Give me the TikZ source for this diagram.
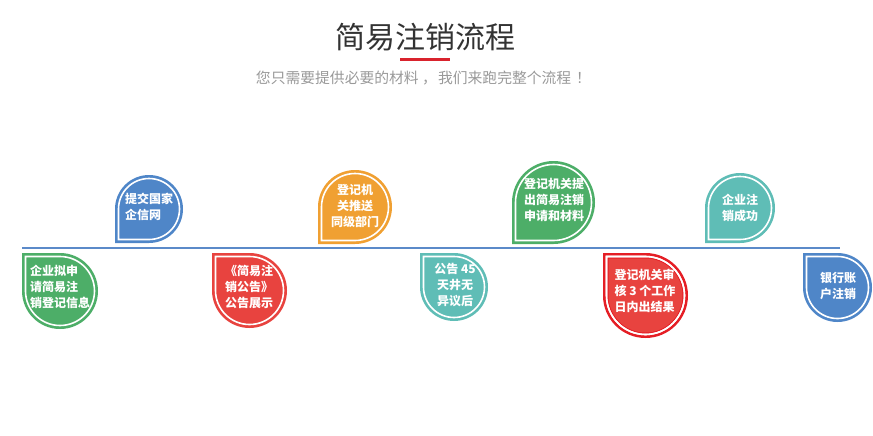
\documentclass[tikz,border=0pt]{standalone}
\usepackage{fontspec}
\setmainfont{Noto Sans CJK SC}
\definecolor{dgreen}{HTML}{4DAE68}
\definecolor{dblue}{HTML}{4F86C8}
\definecolor{dred}{HTML}{E8433F}
\definecolor{dredring}{HTML}{E51E25}
\definecolor{dorange}{HTML}{F0A032}
\definecolor{dteal}{HTML}{5FBDB6}
\definecolor{lineblue}{HTML}{5B8AC9}
\definecolor{titlered}{HTML}{D9232D}
% drop with the square corner at top left: corner x, corner y, radius, colour
\newcommand{\downdrop}[4]{%
  \fill[#4] (#1,-#2) -- ++(#3,0) arc (90:-180:#3) -- cycle;
  \draw[white,line width=1.6pt] ({#1+3.5},{-#2-3.5}) -- ++({#3-3.5},0) arc (90:-180:{#3-3.5}) -- cycle;}
% drop with the square corner at bottom left
\newcommand{\updrop}[4]{%
  \fill[#4] (#1,-#2) -- ++(0,#3) arc (180:-90:#3) -- cycle;
  \draw[white,line width=1.6pt] ({#1+3.5},{-#2+3.5}) -- ++(0,{#3-3.5}) arc (180:-90:{#3-3.5}) -- cycle;}
\tikzset{droptext/.style={text=white,font=\fontsize{12}{16}\selectfont\bfseries,inner sep=0pt}}
\begin{document}
\begin{tikzpicture}[x=1pt,y=1pt]
  \useasboundingbox (0,0) rectangle (873,-436);
  \node[text=black!80,font=\fontsize{30}{36}\selectfont] (title) at (425,-37) {简易注销流程};
  \draw[line width=2.5pt,titlered] (400,-59.5) -- (450,-59.5);
  \node[text=black!40,font=\fontsize{14.8}{18}\selectfont] (sub) at (423.5,-78) {您只需要提供必要的材料\hspace{3.5pt}，\hspace{1pt}我们来跑完整个流程\hspace{5pt}！};
  \coordinate (start) at (22,-248);
  \coordinate (end) at (840,-248);
  \draw[lineblue,line width=1.4pt] (start) -- (end);
  % below the line
  \downdrop{22}{253}{38}{dgreen}
  \node[droptext,align=left] (s1) at (60,-287) {企业拟申\\请简易注\\销登记信息};
  \downdrop{212}{253}{37.5}{dred}
  \node[droptext,align=left] (s3) at (249,-287) {《简易注\\销公告》\\公告展示};
  \downdrop{420}{253}{34}{dteal}
  \node[droptext,align=center] (s6) at (455,-285) {公告 45\\天井无\\异议后};
  \downdrop{603}{253}{42.5}{dredring}
  \fill[dred] (608.5,-258.5) -- ++(37,0) arc (90:-180:37) -- cycle;
  \draw[white,line width=1.6pt] (606.5,-256.5) -- ++(39,0) arc (90:-180:39) -- cycle;
  \node[droptext,align=left] (s7) at (645,-291) {登记机关审\\核 3 个工作\\日内出结果};
  \downdrop{803}{253}{34.5}{dblue}
  \node[droptext,align=left] (s9) at (838,-286) {银行账\\户注销};
  % above the line
  \updrop{115}{243}{34}{dblue}
  \node[droptext,align=left] (s2) at (149,-207) {提交国家\\企信网};
  \updrop{318}{244}{37}{dorange}
  \node[droptext,align=center] (s4) at (355,-206) {登记机\\关推送\\同级部门};
  \updrop{512}{244}{41.5}{dgreen}
  \node[droptext,align=left] (s5) at (554,-200) {登记机关提\\出简易注销\\申请和材料};
  \updrop{705}{243}{35}{dteal}
  \node[droptext,align=left] (s8) at (740,-208) {企业注\\销成功};
\end{tikzpicture}
\end{document}
